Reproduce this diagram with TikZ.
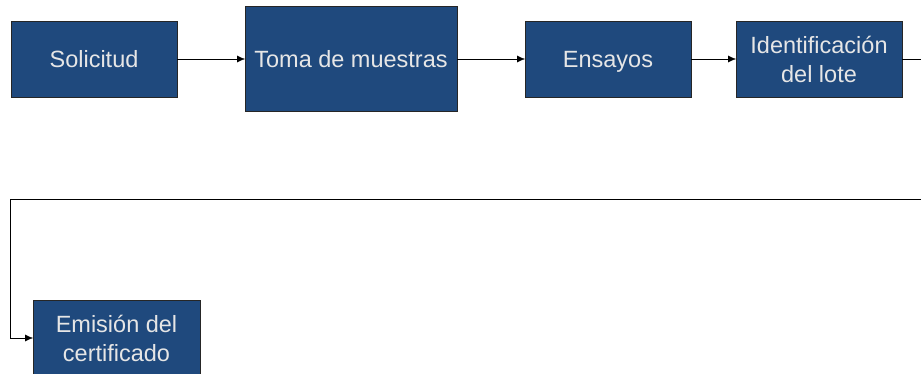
\documentclass[tikz,border=0pt]{standalone}
\usepackage{fontspec}
\setmainfont{Liberation Sans}
\usetikzlibrary{positioning, arrows, arrows.meta}
\definecolor{boxblue}{HTML}{1F497D}
\definecolor{boxtext}{HTML}{E6E6E6}
\tikzset{
  % one px of the sketch is one pt here
  x=1pt, y=-1pt,
  -{Latex[length=8pt,width=7pt]}, line width=0.9pt,
  proc/.style={
    draw=black!85, fill=boxblue, text=boxtext, align=center,
    minimum width=166pt, minimum height=76pt, inner sep=0pt, outer sep=0pt,
    font=\fontsize{23.5}{29}\selectfont
  },
  oneline/.style={text height=17pt, text depth=0pt}
}

\begin{document}
\begin{tikzpicture}
      \useasboundingbox (0,0) rectangle (921,374);

      \node[proc, oneline] (sol) at (94,59) {Solicitud};
      \node[proc, oneline, minimum width=212pt, minimum height=105pt, right = 68pt of sol] (toma) {Toma de muestras};
      \node[proc, oneline, right = 68pt of toma] (ens) {Ensayos};
      \node[proc, right = 45pt of ens] (ident) {Identificación\\del lote};
      \node[proc, minimum width=167pt] (emis) at (116.5,338) {Emisión del\\certificado};

      \coordinate (turn) at (925,199);

      \path (sol)  edge (toma)
            (toma) edge (ens)
            (ens)  edge (ident);
      \draw (ident.east) -| (turn) -- (10,199) |- (emis.west);

    \end{tikzpicture}
\end{document}
